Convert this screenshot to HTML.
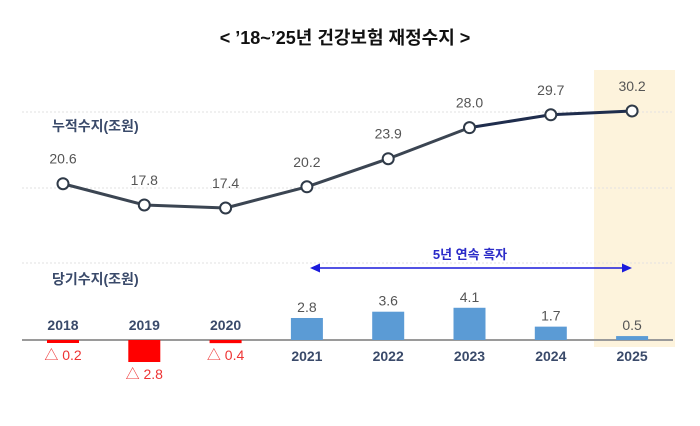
<!DOCTYPE html>
<html><head><meta charset="utf-8"><style>
body{margin:0;background:#fff;}
svg{display:block;font-family:"Liberation Sans","Noto Sans CJK KR",sans-serif;}
</style></head><body>
<svg width="700" height="426" viewBox="0 0 700 426">
<text x="345" y="44" text-anchor="middle" font-size="18" font-weight="bold" fill="#111">&lt;  ’18~’25년 건강보험 재정수지  &gt;</text>
<rect x="594" y="70" width="81" height="277" fill="#fdf3dc"/>
<g stroke="#e2e2e2" stroke-dasharray="2,2" stroke-width="1">
<line x1="22" x2="673" y1="112" y2="112"/><line x1="22" x2="673" y1="188" y2="188"/><line x1="22" x2="673" y1="263" y2="263"/>
</g>
<text x="52" y="131" font-size="14" font-weight="bold" fill="#3a4a6a">누적수지(조원)</text>
<text x="52" y="284" font-size="14" font-weight="bold" fill="#3a4a6a">당기수지(조원)</text>
<line x1="22" x2="673" y1="340" y2="340" stroke="#9a9a9a" stroke-width="2"/>
<line x1="318" x2="622" y1="268" y2="268" stroke="#1a1adc" stroke-width="1.5"/>
<polygon points="310,268 320,263.5 320,272.5" fill="#1a1adc"/>
<polygon points="632,268 622,263.5 622,272.5" fill="#1a1adc"/>
<text x="470" y="259" text-anchor="middle" font-size="13" font-weight="bold" fill="#2b2bc8">5년 연속 흑자</text>
<g id="marks"></g>
</svg>
<script>
const years=["2018","2019","2020","2021","2022","2023","2024","2025"];
const cumulative=[20.6,17.8,17.4,20.2,23.9,28.0,29.7,30.2];
const annual=[-0.2,-2.8,-0.4,2.8,3.6,4.1,1.7,0.5];
const NS="http://www.w3.org/2000/svg";
const g=document.getElementById('marks');
function xs(i){return 63+i*81.3;}
function yl(v){return 208-(v-17.4)*7.58;}
function yb(v){return 340-v*7.86;}
function mk(t,a){const e=document.createElementNS(NS,t);for(const k in a)e.setAttribute(k,a[k]);g.appendChild(e);return e;}
annual.forEach((v,i)=>{
  const x=xs(i);const neg=v<0;
  const h=Math.max(Math.abs(v)*7.86,3);
  const r=mk('rect',{x:x-16,y:neg?340:yb(v),width:32,height:neg?h:Math.abs(v)*7.86,fill:neg?'#ff0000':'#5b9bd5'});
  
  
  const yr=mk('text',{x:x,y:neg?330:361,'text-anchor':'middle','font-size':14,'font-weight':'bold',fill:'#3a4a6a'});
  yr.textContent=years[i];
  
  
  const vl=mk('text',{x:x,y:neg?340+h+17:yb(v)-6,'text-anchor':'middle','font-size':14,fill:neg?'#ee3333':'#555'});
  vl.textContent=neg?'△ '+Math.abs(v).toFixed(1):v.toFixed(1);
  
  
});
for(let i=0;i<cumulative.length-1;i++){
  const l=mk('line',{x1:xs(i),y1:yl(cumulative[i]),x2:xs(i+1),y2:yl(cumulative[i+1]),stroke:(i>=5)?'#1f2d4d':'#3b4552','stroke-width':3});
  
  
}
cumulative.forEach((v,i)=>{
  const c=mk('circle',{cx:xs(i),cy:yl(v),r:5.5,fill:'#fff',stroke:'#2f3a48','stroke-width':2});
  
  
  const t=mk('text',{x:xs(i),y:yl(v)-20,'text-anchor':'middle','font-size':14,fill:'#555'});
  t.textContent=v.toFixed(1);
  
  
});
</script>
</body></html>
